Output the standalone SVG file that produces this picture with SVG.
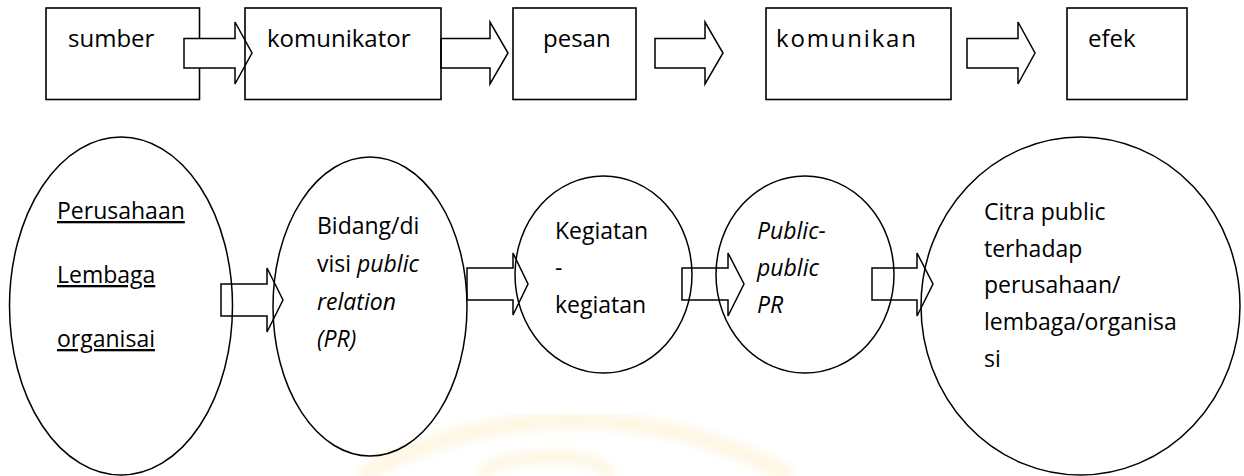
<svg xmlns="http://www.w3.org/2000/svg" width="1244" height="476" viewBox="0 0 1244 476">
<defs>
<style>
.box{fill:none;stroke:#000;stroke-width:1.6}
.box0{fill:#fff;stroke:#000;stroke-width:1.6}
.ell{fill:none;stroke:#000;stroke-width:1.5}
.arr{fill:#fff;stroke:#000;stroke-width:1.5;stroke-linejoin:miter}
.t{font-family:"Open Sans","Noto Sans",sans-serif;fill:#000}
.top{font-size:24px}
.bot{font-size:23px}
.i{font-style:italic}
.u{text-decoration:underline}
</style>
<filter id="blur"><feGaussianBlur stdDeviation="5"/></filter>
</defs>
<rect width="1244" height="476" fill="#fff"/>
<g id="watermark" opacity="0.22" filter="url(#blur)">
<path d="M360,476 A444,444 0 0 1 790,476" fill="none" stroke="#f7d77a" stroke-width="16"/>
<path d="M480,476 Q500,455 545,458 Q590,452 612,476" fill="none" stroke="#f7d77a" stroke-width="12"/>
</g>
<g id="node-sumber">
<rect class="box0" x="46" y="8" width="153.5" height="91.5"/>
<text class="t top" x="68" y="47">sumber</text>
</g>
<g id="connectors">
<path class="arr" d="M184,38.5 H235 V22 L252,53 L235,84 V68 H184 Z"/>
<path class="arr" d="M441,38.5 H490 V22 L508,53 L490,84 V68 H441 Z"/>
<path class="arr" d="M655,38.5 H705 V22 L723,53 L705,84 V68 H655 Z"/>
<path class="arr" d="M967,38.5 H1018 V22 L1035,53 L1018,84 V68 H967 Z"/>
<path class="arr" d="M221,284 H267 V268 L283,300 L267,332 V316 H221 Z"/>
<path class="arr" d="M467,268 H513 V253 L528,284 L513,315 V300 H467 Z"/>
<path class="arr" d="M682,268 H728 V253 L744,284 L728,316 V300 H682 Z"/>
<path class="arr" d="M872,268 H917 V253 L933,284 L917,316 V300 H872 Z"/>
</g>
<g id="node-komunikator">
<rect class="box" x="245" y="8" width="196" height="91.5"/>
<text class="t top" x="267" y="47">komunikator</text>
</g>
<g id="node-pesan">
<rect class="box" x="513" y="8" width="123" height="91.5"/>
<text class="t top" x="543" y="47">pesan</text>
</g>
<g id="node-komunikan">
<rect class="box" x="766" y="8" width="185" height="91.5"/>
<text class="t top" x="776" y="47" textLength="140" lengthAdjust="spacing">komunikan</text>
</g>
<g id="node-efek">
<rect class="box" x="1067" y="8" width="120" height="91.5"/>
<text class="t top" x="1088" y="47">efek</text>
</g>
<g id="node-perusahaan">
<ellipse class="ell" cx="121" cy="306" rx="111.5" ry="169"/>
<text class="t bot u" x="57" y="219">Perusahaan</text>
<text class="t bot u" x="57" y="283">Lembaga</text>
<text class="t bot u" x="57" y="347">organisai</text>
</g>
<g id="node-bidang">
<ellipse class="ell" cx="370" cy="306.5" rx="97" ry="149.5"/>
<text class="t bot" x="317" y="234">Bidang/di</text>
<text class="t bot" x="317" y="272">visi <tspan class="i">public</tspan></text>
<text class="t bot i" x="317" y="310">relation</text>
<text class="t bot i" x="317" y="347">(PR)</text>
</g>
<g id="node-kegiatan">
<ellipse class="ell" cx="603.5" cy="274.5" rx="88.5" ry="98.5"/>
<text class="t bot" x="555" y="239">Kegiatan</text>
<text class="t bot" x="555" y="276">-</text>
<text class="t bot" x="555" y="313">kegiatan</text>
</g>
<g id="node-public">
<ellipse class="ell" cx="805" cy="274.5" rx="89" ry="98.5"/>
<text class="t bot i" x="757" y="239">Public-</text>
<text class="t bot i" x="757" y="276">public</text>
<text class="t bot i" x="757" y="313">PR</text>
</g>
<g id="node-citra">
<ellipse class="ell" cx="1080.5" cy="306" rx="159.5" ry="169"/>
<text class="t bot" x="984" y="220">Citra public</text>
<text class="t bot" x="984" y="257">terhadap</text>
<text class="t bot" x="984" y="293">perusahaan/</text>
<text class="t bot" x="984" y="330">lembaga/organisa</text>
<text class="t bot" x="984" y="367">si</text>
</g>
</svg>
